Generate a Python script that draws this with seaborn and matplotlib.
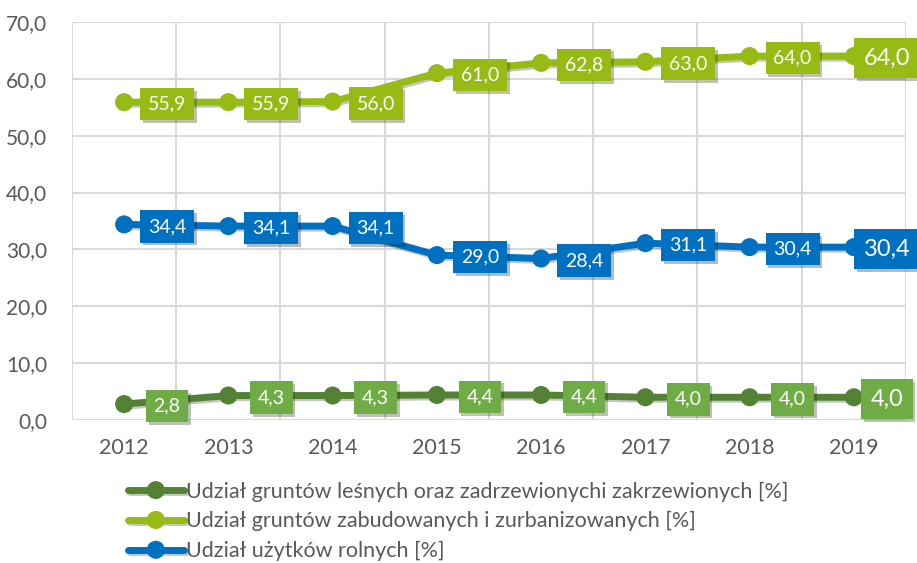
import seaborn as sns
import pandas as pd
import matplotlib.pyplot as plt
import matplotlib.patheffects as pe

years = [2012, 2013, 2014, 2015, 2016, 2017, 2018, 2019]
lesne = [2.8, 4.3, 4.3, 4.4, 4.4, 4.0, 4.0, 4.0]
zabudowane = [55.9, 55.9, 56.0, 61.0, 62.8, 63.0, 64.0, 64.0]
rolne = [34.4, 34.1, 34.1, 29.0, 28.4, 31.1, 30.4, 30.4]

names = ['Udział gruntów leśnych oraz zadrzewionychi zakrzewionych [%]',
         'Udział gruntów zabudowanych i zurbanizowanych [%]',
         'Udział użytków rolnych [%]']
line_colors = ['#548235', '#97BA14', '#0070C0']
box_colors = ['#6FAC46', '#97BA14', '#0070C0']

df = pd.concat([
    pd.DataFrame({'rok': years, 'wartosc': vals, 'seria': n})
    for vals, n in zip([lesne, zabudowane, rolne], names)
])

sns.set_theme(style='white')
plt.rcParams['font.family'] = ['Lato', 'DejaVu Sans']

fig = plt.figure(figsize=(9.17, 5.63), dpi=100)
ax = fig.add_axes([0.0785, 0.254, 0.9095, 0.707])

sns.lineplot(data=df, x='rok', y='wartosc', hue='seria', hue_order=names,
             palette=dict(zip(names, line_colors)), marker='o', markersize=13,
             markeredgewidth=0, linewidth=5, ax=ax, zorder=3,
             path_effects=[pe.SimpleLineShadow(offset=(1.5, -1.5), alpha=0.25), pe.Normal()])

ax.set_xlim(2011.5, 2019.5)
ax.set_ylim(0, 70)
ax.set_xticks(years)
ax.set_xticks([y + 0.5 for y in [2011] + years], minor=True)
ax.set_yticks(range(0, 71, 10))
ax.set_yticklabels([f'{v},0' for v in range(0, 71, 10)])
ax.grid(which='minor', axis='x', color='#D9D9D9', linewidth=1.5)
ax.grid(which='major', axis='y', color='#D9D9D9', linewidth=1.5)
ax.tick_params(axis='both', which='both', length=0, colors='#595959')
ax.tick_params(axis='y', pad=18, labelsize=15)
ax.tick_params(axis='x', pad=13, labelsize=15.5)
for s in ax.spines.values():
    s.set_visible(False)
ax.set_xlabel('')
ax.set_ylabel('')

for vals, c in zip([lesne, zabudowane, rolne], box_colors):
    for i, (x, v) in enumerate(zip(years, vals)):
        last = i == len(years) - 1
        t = ax.annotate(f'{v:.1f}'.replace('.', ','), (x, v),
                        xytext=(33 if last else 43, -2),
                        textcoords='offset pixels', ha='center', va='center',
                        fontsize=17 if last else 14, color='white', zorder=5,
                        annotation_clip=False,
                        bbox=dict(boxstyle='square,pad=0.4', fc=c, ec='none'))
        t.get_bbox_patch().set_path_effects(
            [pe.SimplePatchShadow(offset=(2, -2), alpha=0.3), pe.Normal()])

handles, labels = ax.get_legend_handles_labels()
ax.get_legend().remove()
fig.legend(handles, labels, loc='upper left', bbox_to_anchor=(0.13, 0.16),
           frameon=False, fontsize=15.5, handlelength=2.6, handletextpad=0.1,
           labelspacing=0.45, labelcolor='#595959', borderaxespad=0)

fig.savefig('out.png', dpi=100)
